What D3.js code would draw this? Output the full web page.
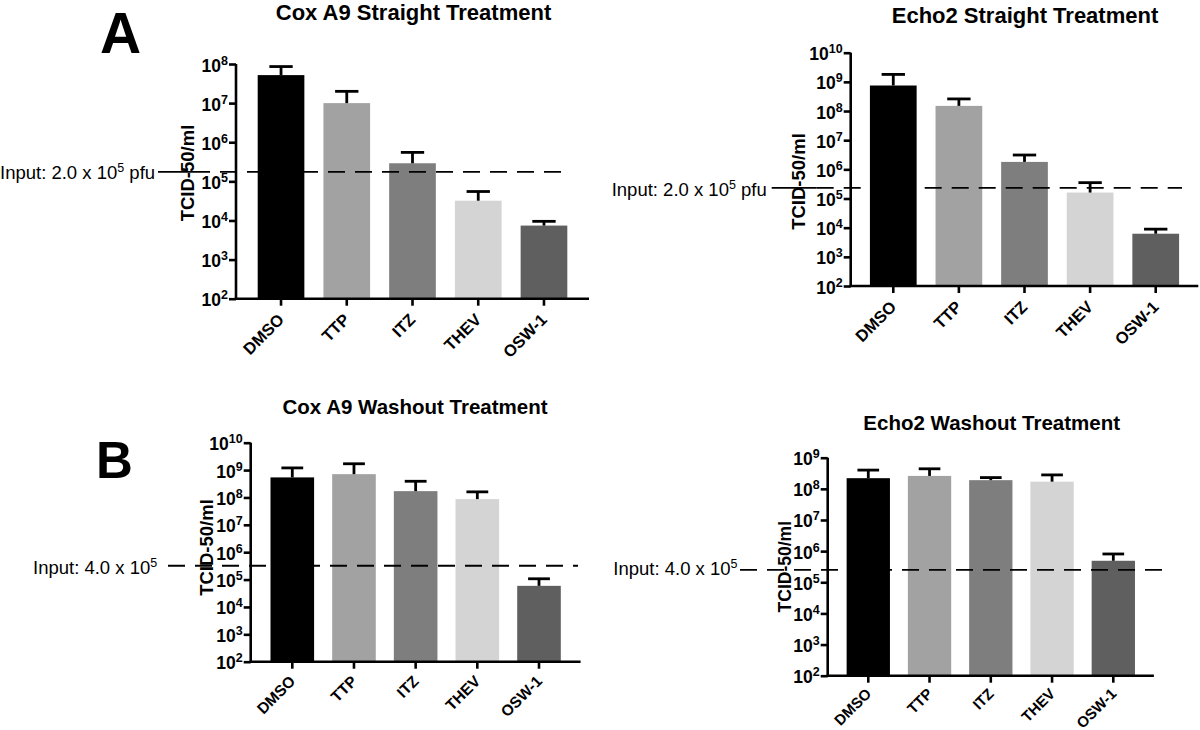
<!DOCTYPE html>
<html>
<head>
<meta charset="utf-8">
<script src="https://cdn.jsdelivr.net/npm/d3@7"></script>
<style>
  html, body { margin: 0; padding: 0; background: #fff; }
  svg { display: block; }
  text { font-family: "Liberation Sans", Arial, Helvetica, sans-serif; fill: #000; }
</style>
</head>
<body>
<svg id="chart" width="1200" height="730"></svg>
<script>
// ---------------- data ----------------
const categories = ["DMSO", "TTP", "ITZ", "THEV", "OSW-1"];
const barColors = ["#000000", "#a2a2a2", "#7e7e7e", "#d4d4d4", "#5f5f5f"];

const titles = ["Cox A9 Straight Treatment", "Echo2 Straight Treatment",
                "Cox A9 Washout Treatment", "Echo2 Washout Treatment"];
const yAxisTitle = "TCID-50/ml";

const coxStraightMean  = [5.2e7, 1.0e7, 2.9e5, 3.2e4, 7.4e3];
const coxStraightUpper = [8.6e7, 2.0e7, 5.5e5, 5.5e4, 9.5e3];
const echoStraightMean  = [7.5e8, 1.5e8, 1.8e6, 1.6e5, 6.2e3];
const echoStraightUpper = [1.8e9, 2.6e8, 3.1e6, 3.5e5, 8.9e3];
const coxWashMean  = [5.4e8, 7.1e8, 1.7e8, 8.7e7, 5.9e4];
const coxWashUpper = [1.2e9, 1.7e9, 3.9e8, 1.6e8, 1.07e5];
const echoWashMean  = [2.2e8, 2.6e8, 1.9e8, 1.7e8, 4.9e5];
const echoWashUpper = [4.0e8, 4.4e8, 2.3e8, 2.8e8, 8.1e5];

const inputLevels = [1.75e5, 2.3e5, 3.2e5, 2.5e5];
const inputLabelMain = ["Input: 2.0 x 10", "Input: 2.0 x 10", "Input: 4.0 x 10", "Input: 4.0 x 10"];
const inputLabelExp = ["5", "5", "5", "5"];
const inputLabelTail = [" pfu", " pfu", "", ""];

const yMaxExp = [8, 10, 10, 9];
const yMinExp = 2;

const panelLetters = ["A", "B"];

// ---------------- layout ----------------
const layout = [
  { x0: 236,   x1: 589,    pi: 0.29,  po: 0.33,  yTop: 64,    yBot: 298.7,
    titleX: 413.5, titleY: 19.5, titleSize: 22,
    ylabX: 187, ylabY: 173, ylabSize: 18.5,
    inX: 0, inY: 179, lineX0: 158, lineX1: 570, solidLen: 35,
    catSize: 16.5, catDx: 4, catDy: 22 },
  { x0: 850.7, x1: 1198.3, pi: 0.288, po: 0.293, yTop: 52.7,  yBot: 286,
    titleX: 1025, titleY: 23, titleSize: 22,
    ylabX: 798, ylabY: 181.5, ylabSize: 18.5,
    inX: 611.7, inY: 196, lineX0: 771.7, lineX1: 1182, solidLen: 45,
    catSize: 16.5, catDx: 4, catDy: 22 },
  { x0: 250.7, x1: 580.6,  pi: 0.293, po: 0.321, yTop: 442.7, yBot: 661.7,
    titleX: 415, titleY: 414, titleSize: 20.5,
    ylabX: 206, ylabY: 547.5, ylabSize: 18.5,
    inX: 33, inY: 574, lineX0: 168, lineX1: 578, solidLen: 0,
    catSize: 15.5, catDx: 4, catDy: 20.5 },
  { x0: 827.7, x1: 1153.9, pi: 0.293, po: 0.309, yTop: 457.7, yBot: 675.7,
    titleX: 991.7, titleY: 430, titleSize: 20.5,
    ylabX: 784.3, ylabY: 566.7, ylabSize: 17.5,
    inX: 613.3, inY: 575, lineX0: 740, lineX1: 1166, solidLen: 0,
    catSize: 15, catDx: 4, catDy: 19 }
];

const means = [coxStraightMean, echoStraightMean, coxWashMean, echoWashMean];
const uppers = [coxStraightUpper, echoStraightUpper, coxWashUpper, echoWashUpper];

const svg = d3.select("#chart");

function drawPanel(i) {
  const L = layout[i];
  const g = svg.append("g");

  const x = d3.scaleBand().domain(categories).range([L.x0, L.x1])
    .paddingInner(L.pi).paddingOuter(L.po);
  const y = d3.scaleLog().domain([Math.pow(10, yMinExp), Math.pow(10, yMaxExp[i])])
    .range([L.yBot, L.yTop]);

  const rows = categories.map((c, k) => ({ cat: c, mean: means[i][k], upper: uppers[i][k], color: barColors[k] }));

  // bars
  g.selectAll("rect.bar").data(rows).join("rect")
    .attr("class", "bar")
    .attr("x", d => x(d.cat))
    .attr("width", x.bandwidth())
    .attr("y", d => y(d.mean))
    .attr("height", d => y(Math.pow(10, yMinExp)) - y(d.mean))
    .attr("fill", d => d.color);

  // error bars (upper)
  const cap = x.bandwidth() * 0.5;
  const eb = g.selectAll("g.err").data(rows).join("g").attr("class", "err");
  eb.append("line")
    .attr("x1", d => x(d.cat) + x.bandwidth() / 2)
    .attr("x2", d => x(d.cat) + x.bandwidth() / 2)
    .attr("y1", d => y(d.mean))
    .attr("y2", d => y(d.upper))
    .attr("stroke", "#000").attr("stroke-width", 2.8);
  eb.append("line")
    .attr("x1", d => x(d.cat) + x.bandwidth() / 2 - cap / 2)
    .attr("x2", d => x(d.cat) + x.bandwidth() / 2 + cap / 2)
    .attr("y1", d => y(d.upper))
    .attr("y2", d => y(d.upper))
    .attr("stroke", "#000").attr("stroke-width", 2.8);

  // input dashed line
  const yi = y(inputLevels[i]);
  if (L.solidLen > 0) {
    g.append("line")
      .attr("x1", L.lineX0).attr("x2", L.lineX0 + L.solidLen)
      .attr("y1", yi).attr("y2", yi)
      .attr("stroke", "#000").attr("stroke-width", 1.8);
  }
  g.append("line")
    .attr("x1", L.lineX0 + L.solidLen).attr("x2", L.lineX1)
    .attr("y1", yi).attr("y2", yi)
    .attr("stroke", "#000").attr("stroke-width", 1.8)
    .attr("stroke-dasharray", "17,10");

  // input label
  const it = g.append("text")
    .attr("x", L.inX).attr("y", L.inY)
    .style("font-size", "18.5px");
  it.append("tspan").text(inputLabelMain[i]);
  it.append("tspan").attr("dy", -7).style("font-size", "12.5px").text(inputLabelExp[i]);
  if (inputLabelTail[i]) it.append("tspan").attr("dy", 7).text(inputLabelTail[i]);

  // y axis
  const yTicks = d3.range(yMinExp, yMaxExp[i] + 1).map(e => Math.pow(10, e));
  const yAxis = d3.axisLeft(y).tickValues(yTicks).tickSize(7).tickPadding(2).tickFormat("");
  const ya = g.append("g").attr("transform", `translate(${L.x0},0)`).call(yAxis);
  ya.select(".domain").attr("stroke-width", 2.6).attr("d", `M0,${L.yTop}V${L.yBot}`);
  ya.selectAll(".tick line").attr("stroke-width", 2.6);
  ya.selectAll(".tick").each(function (d) {
    const t = d3.select(this).append("text")
      .attr("x", -8).attr("y", 7)
      .style("text-anchor", "end")
      .style("font-size", "17.5px").style("font-weight", "bold");
    t.append("tspan").text("10");
    t.append("tspan").attr("dy", -7).style("font-size", "12.5px").text(String(Math.round(Math.log10(d))));
  });

  // x axis
  const xAxis = d3.axisBottom(x).tickSize(7).tickSizeOuter(0);
  const xa = g.append("g").attr("transform", `translate(0,${L.yBot})`).call(xAxis);
  xa.select(".domain").attr("stroke-width", 2.6).attr("d", `M${L.x0 - 1.3},0H${L.x1}`);
  xa.selectAll(".tick line").attr("stroke-width", 2.6);
  xa.selectAll(".tick text")
    .attr("x", 0).attr("y", 0).attr("dy", 0)
    .attr("transform", `translate(${L.catDx},${L.catDy}) rotate(-45)`)
    .style("text-anchor", "end")
    .style("font-size", L.catSize + "px").style("font-weight", "bold")
    .style("font-family", "'Liberation Sans', Arial, sans-serif");

  // y axis title
  g.append("text")
    .attr("transform", `translate(${L.ylabX + 6.5},${L.ylabY}) rotate(-90)`)
    .style("text-anchor", "middle")
    .style("font-size", L.ylabSize + "px").style("font-weight", "bold")
    .text(yAxisTitle);

  // title
  g.append("text")
    .attr("x", L.titleX).attr("y", L.titleY)
    .style("text-anchor", "middle")
    .style("font-size", L.titleSize + "px").style("font-weight", "bold")
    .text(titles[i]);
}

[0, 1, 2, 3].forEach(drawPanel);

// panel letters
svg.append("text").attr("x", 100).attr("y", 53)
  .style("font-size", "57px").style("font-weight", "bold").text(panelLetters[0]);
svg.append("text").attr("x", 96).attr("y", 478)
  .style("font-size", "51px").style("font-weight", "bold").text(panelLetters[1]);
</script>
</body>
</html>
